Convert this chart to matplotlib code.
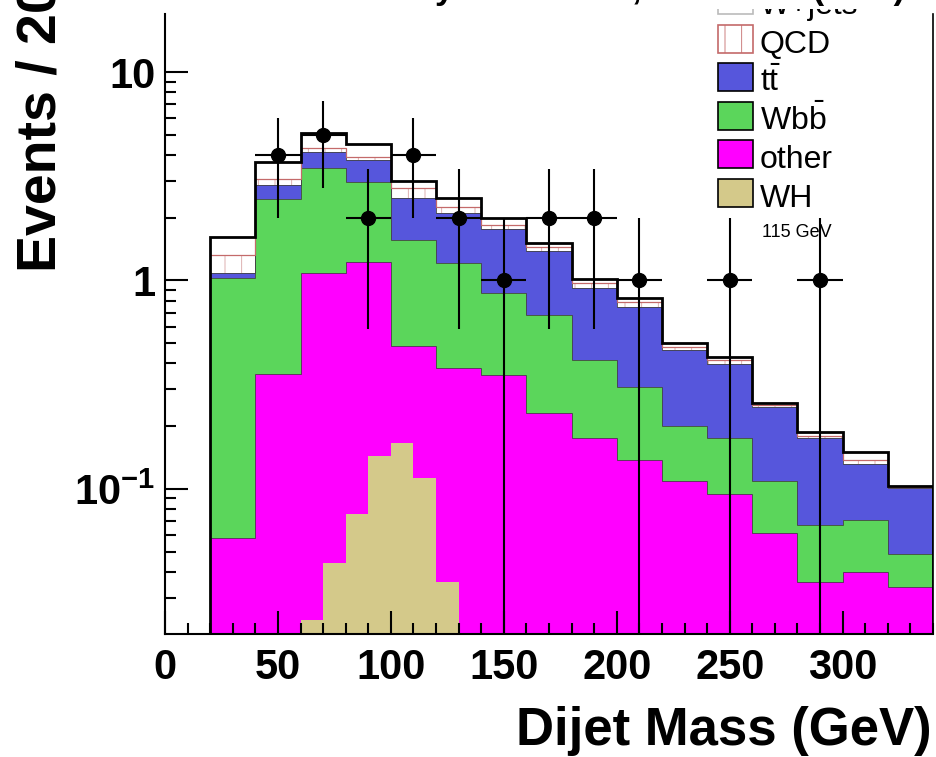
import numpy as np
import matplotlib.pyplot as plt
from matplotlib.patches import Rectangle
from matplotlib.ticker import FixedLocator, FixedFormatter, MultipleLocator, NullFormatter

plt.rcParams['font.family'] = ['Liberation Sans', 'DejaVu Sans']
plt.rcParams['mathtext.fontset'] = 'custom'
plt.rcParams['mathtext.rm'] = 'Liberation Sans'
plt.rcParams['mathtext.bf'] = 'Liberation Sans:bold'
plt.rcParams['hatch.linewidth'] = 0.6

# dijet mass, 20 GeV bins
edges = np.arange(20, 341, 20)
other = [0.058, 0.357, 1.09, 1.23, 0.482, 0.382, 0.353, 0.23,
         0.176, 0.138, 0.109, 0.0946, 0.0614, 0.0357, 0.040, 0.0338]
wbb = [0.972, 2.093, 2.36, 1.73, 1.078, 0.828, 0.513, 0.449,
       0.241, 0.171, 0.092, 0.0814, 0.0476, 0.0315, 0.031, 0.0148]
ttbar = [0.06, 0.41, 0.67, 0.82, 0.92, 0.89, 0.894, 0.711,
         0.508, 0.433, 0.265, 0.223, 0.139, 0.109, 0.061, 0.052]
qcd = [0.24, 0.20, 0.19, 0.12, 0.29, 0.14, 0.08, 0.05,
       0.045, 0.043, 0.014, 0.016, 0.004, 0.004, 0.006, 0.001]
wjets = [0.28, 0.63, 0.78, 0.61, 0.22, 0.24, 0.15, 0.08,
         0.05, 0.035, 0.023, 0.016, 0.007, 0.008, 0.013, 0.002]
data = [0, 4, 5, 2, 4, 2, 1, 2, 2, 1, 0, 1, 0, 1, 0, 0]

# WH signal for m_H = 115 GeV, 10 GeV bins
wh_edges = np.arange(60, 131, 10)
wh = [0.0234, 0.044, 0.0758, 0.144, 0.166, 0.113, 0.0357]

MAGENTA = '#ff00ff'
GREEN = '#5bd65b'
BLUE = '#5656dc'
TAN = '#d4c98a'
QCD_RED = '#c46a6a'
QCD_HATCH = '#d8a4a4'

W, H = 937, 757
YMIN, YMAX = 0.0201, 19.0
floor = 1e-4

fig = plt.figure(figsize=(W / 100, H / 100), dpi=100)
ax = fig.add_axes([165 / W, 1 - 634 / H, (933 - 165) / W, (634 - 14) / H])

tops = np.cumsum([other, wbb, ttbar, qcd, wjets], axis=0)

ax.stairs(tops[0], edges, baseline=floor, fill=True, facecolor=MAGENTA, edgecolor='none')
ax.stairs(tops[1], edges, baseline=tops[0], fill=True, facecolor=GREEN, edgecolor='none')
ax.stairs(tops[2], edges, baseline=tops[1], fill=True, facecolor=BLUE, edgecolor='none')
ax.stairs(tops[3], edges, baseline=tops[2], fill=True, facecolor='white',
          edgecolor=QCD_HATCH, hatch='|', linewidth=0)
ax.stairs(tops[4], edges, baseline=tops[3], fill=True, facecolor='white', edgecolor='none')
for i in range(3):
    ax.stairs(tops[i], edges, baseline=None, color='#444444', linewidth=0.6)
ax.stairs(tops[3], edges, baseline=None, color=QCD_RED, linewidth=0.9)
ax.stairs(tops[4], edges, baseline=floor, color='black', linewidth=2.0)

ax.stairs(wh, wh_edges, baseline=floor, fill=True, facecolor=TAN, edgecolor='none')

counts = np.array(data, dtype=float)
centers = 0.5 * (edges[:-1] + edges[1:])
half = 0.5 * np.diff(edges)
seen = counts > 0
err = np.sqrt(counts[seen])
lower = np.minimum(err, counts[seen] - floor)
ax.errorbar(centers[seen], counts[seen], yerr=[lower, err], xerr=half[seen],
            fmt='o', color='black', ms=10, elinewidth=1.5, capsize=0, zorder=4)

ax.set_xlim(0, 340)
ax.set_yscale('log')
ax.set_ylim(YMIN, YMAX)

ax.xaxis.set_major_locator(MultipleLocator(50))
ax.xaxis.set_minor_locator(MultipleLocator(10))
ax.yaxis.set_major_locator(FixedLocator([0.1, 1, 10]))
ax.yaxis.set_major_formatter(FixedFormatter([r'$\mathbf{10^{-1}}$', '1', '10']))
ax.yaxis.set_minor_locator(FixedLocator([k * 10.0 ** e for e in (-2, -1, 0) for k in range(2, 10)]))
ax.yaxis.set_minor_formatter(NullFormatter())

ax.tick_params(which='both', direction='in', width=1.5, top=False, right=False)
ax.tick_params(which='major', length=16.5, labelsize=30)
ax.tick_params(which='minor', length=8)
ax.tick_params(axis='x', which='major', pad=10)
ax.tick_params(axis='y', which='major', pad=7)
for lab in ax.get_xticklabels() + ax.get_yticklabels():
    lab.set_fontweight('bold')

ax.spines['top'].set_visible(False)
ax.spines['left'].set_linewidth(1.5)
ax.spines['bottom'].set_linewidth(1.5)
ax.spines['right'].set_linewidth(1.2)


def fpos(x, y):
    return x / W, 1 - y / H


fig.text(*fpos(42, 272), 'Events / 20 GeV', rotation=90, ha='center', va='bottom',
         fontsize=40, fontweight='bold')
fig.text(*fpos(932, 745), 'Dijet Mass (GeV)', ha='right', va='baseline',
         fontsize=38, fontweight='bold')

# legend
entries = [
    ('W+jets', 'white', '#bbbbbb', None),
    ('QCD', 'white', QCD_RED, '|'),
    (r'$\mathrm{t\bar{t}}$', BLUE, 'black', None),
    (r'$\mathrm{Wb\bar{b}}$', GREEN, 'black', None),
    ('other', MAGENTA, 'black', None),
    ('WH', TAN, 'black', None),
]
for i, (label, face, edge, hatch) in enumerate(entries):
    cy = 0 + 38.6 * i
    x0, y0 = fpos(718, cy + 14)
    fig.add_artist(Rectangle((x0, y0), 35 / W, 28 / H, transform=fig.transFigure,
                             facecolor=face, edgecolor=edge, hatch=hatch, linewidth=1.2))
    fig.text(*fpos(760, cy + 14), label, ha='left', va='baseline', fontsize=23)
fig.text(*fpos(762, 237), '115 GeV', ha='left', va='baseline', fontsize=13)

# title pave along the top edge
fig.add_artist(Rectangle(fpos(170, 9), (W - 170) / W, 20 / H, transform=fig.transFigure,
                         facecolor='white', edgecolor='none', zorder=5))
fig.text(*fpos(905, -1), 'Events with Exactly 1 SECVTX, W+2 Jets (SVX)', ha='right',
         va='baseline', fontsize=25, fontweight='bold', zorder=6)

fig.savefig('out.png', dpi=100)
